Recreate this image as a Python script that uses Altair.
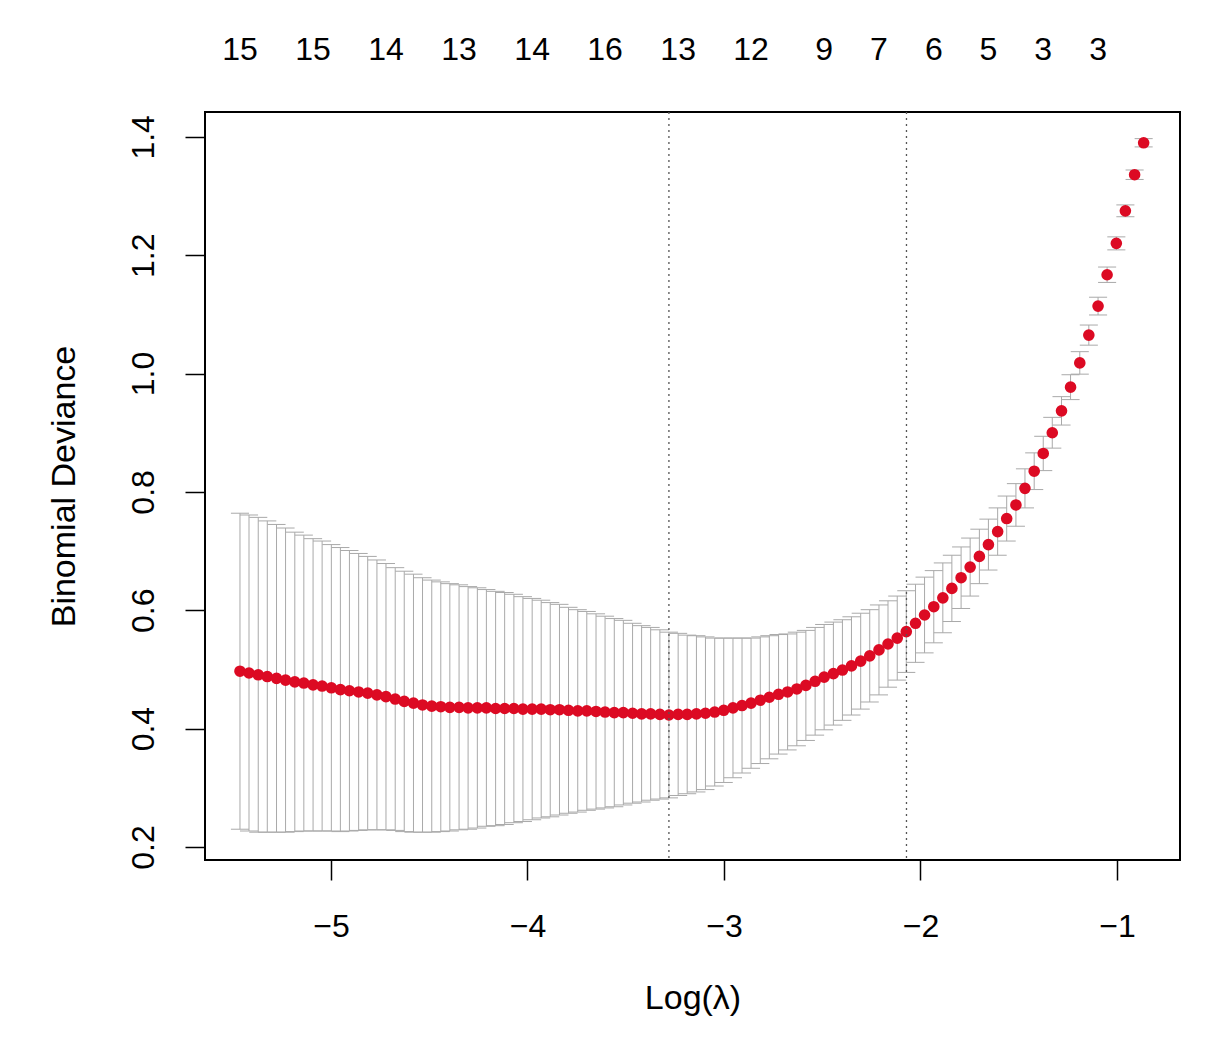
import altair as alt
import pandas as pd

# log(lambda) sequence (left to right)
log_lambda = [
    -5.463, -5.417, -5.370, -5.324, -5.277, -5.231, -5.184, -5.138, -5.091, -5.045,
    -4.998, -4.952, -4.906, -4.859, -4.813, -4.766, -4.720, -4.673, -4.627, -4.580,
    -4.534, -4.487, -4.441, -4.395, -4.348, -4.302, -4.255, -4.209, -4.162, -4.116,
    -4.069, -4.023, -3.976, -3.930, -3.884, -3.837, -3.791, -3.744, -3.698, -3.651,
    -3.605, -3.558, -3.512, -3.465, -3.419, -3.373, -3.326, -3.280, -3.233, -3.187,
    -3.140, -3.094, -3.047, -3.001, -2.954, -2.908, -2.862, -2.815, -2.769, -2.722,
    -2.676, -2.629, -2.583, -2.536, -2.490, -2.443, -2.397, -2.351, -2.304, -2.258,
    -2.211, -2.165, -2.118, -2.072, -2.025, -1.979, -1.932, -1.886, -1.840, -1.793,
    -1.747, -1.700, -1.654, -1.607, -1.561, -1.514, -1.468, -1.421, -1.375, -1.329,
    -1.282, -1.236, -1.189, -1.143, -1.096, -1.050, -1.003, -0.957, -0.910, -0.864,
]

# mean cross-validated binomial deviance
cv_mean = [
    0.497, 0.494, 0.491, 0.488, 0.485, 0.482, 0.479, 0.477, 0.474, 0.472,
    0.469, 0.466, 0.464, 0.462, 0.460, 0.457, 0.454, 0.450, 0.446, 0.443,
    0.440, 0.438, 0.437, 0.436, 0.436, 0.435, 0.435, 0.435, 0.434, 0.434,
    0.434, 0.433, 0.433, 0.433, 0.432, 0.432, 0.431, 0.430, 0.430, 0.429,
    0.428, 0.427, 0.427, 0.426, 0.425, 0.425, 0.424, 0.423, 0.424, 0.424,
    0.425, 0.426, 0.428, 0.431, 0.435, 0.439, 0.443, 0.448, 0.453, 0.458,
    0.462, 0.467, 0.473, 0.480, 0.487, 0.493, 0.499, 0.506, 0.514, 0.523,
    0.533, 0.543, 0.553, 0.564, 0.578, 0.592, 0.606, 0.621, 0.637, 0.655,
    0.673, 0.691, 0.711, 0.733, 0.755, 0.778, 0.806, 0.835, 0.865, 0.900,
    0.937, 0.977, 1.018, 1.065, 1.114, 1.167, 1.220, 1.275, 1.336, 1.390,
]

cv_upper = [
    0.764, 0.761, 0.757, 0.751, 0.745, 0.739, 0.732, 0.727, 0.721, 0.717,
    0.711, 0.706, 0.701, 0.696, 0.691, 0.685, 0.679, 0.672, 0.666, 0.661,
    0.655, 0.651, 0.648, 0.645, 0.643, 0.640, 0.638, 0.635, 0.632, 0.630,
    0.627, 0.623, 0.620, 0.617, 0.613, 0.610, 0.605, 0.601, 0.598, 0.594,
    0.590, 0.586, 0.583, 0.578, 0.574, 0.571, 0.567, 0.563, 0.561, 0.558,
    0.557, 0.555, 0.553, 0.553, 0.553, 0.553, 0.553, 0.555, 0.557, 0.559,
    0.560, 0.563, 0.566, 0.571, 0.576, 0.580, 0.584, 0.589, 0.595, 0.601,
    0.609, 0.616, 0.624, 0.633, 0.644, 0.656, 0.667, 0.680, 0.693, 0.707,
    0.722, 0.737, 0.754, 0.773, 0.793, 0.814, 0.839, 0.866, 0.894, 0.926,
    0.961, 0.998, 1.037, 1.082, 1.129, 1.180, 1.231, 1.285, 1.344, 1.397,
]

cv_lower = [
    0.230, 0.227, 0.225, 0.225, 0.225, 0.225, 0.226, 0.227, 0.227, 0.227,
    0.227, 0.226, 0.227, 0.228, 0.229, 0.229, 0.229, 0.228, 0.226, 0.225,
    0.225, 0.225, 0.226, 0.227, 0.229, 0.230, 0.232, 0.235, 0.236, 0.238,
    0.241, 0.243, 0.246, 0.249, 0.251, 0.254, 0.257, 0.259, 0.262, 0.264,
    0.266, 0.268, 0.271, 0.274, 0.276, 0.279, 0.281, 0.283, 0.287, 0.290,
    0.293, 0.297, 0.303, 0.309, 0.317, 0.325, 0.333, 0.341, 0.349, 0.357,
    0.364, 0.371, 0.380, 0.389, 0.398, 0.406, 0.414, 0.423, 0.433, 0.445,
    0.457, 0.470, 0.482, 0.495, 0.512, 0.528, 0.545, 0.562, 0.581, 0.603,
    0.624, 0.645, 0.668, 0.693, 0.717, 0.742, 0.773, 0.804, 0.836, 0.874,
    0.913, 0.956, 0.999, 1.048, 1.099, 1.154, 1.209, 1.265, 1.328, 1.383,
]

# number of non-zero coefficients shown on top
top_label_x = [-5.463, -5.091, -4.720, -4.348, -3.976, -3.605, -3.233,
               -2.862, -2.490, -2.211, -1.932, -1.654, -1.375, -1.096]
top_labels = ["15", "15", "14", "13", "14", "16", "13", "12", "9", "7", "6", "5", "3", "3"]

# lambda.min and lambda.1se
vline_x = [-3.280, -2.071]

x_ticks = [-5, -4, -3, -2, -1]
y_ticks = [0.2, 0.4, 0.6, 0.8, 1.0, 1.2, 1.4]

FONT = "Liberation Sans"
CAP = 0.046

df = pd.DataFrame({"x": log_lambda, "mean": cv_mean, "upper": cv_upper, "lower": cv_lower})
top_df = pd.DataFrame({"x": top_label_x, "label": top_labels})
vl_df = pd.DataFrame({"x": vline_x})

xscale = alt.Scale(domain=[-5.641, -0.679], nice=False, zero=False)
yscale = alt.Scale(domain=[0.178, 1.442], nice=False, zero=False)

X_TITLE = "Log(λ)"
Y_TITLE = "Binomial Deviance"

xaxis = alt.Axis(
    values=x_ticks, format="d", grid=False, domain=False,
    tickSize=20, tickWidth=1.5, tickColor="black",
    labelFont=FONT, labelFontSize=32, labelColor="black",
    labelBaseline="middle", labelPadding=46, labelFlush=False,
    title=X_TITLE, titleFont=FONT, titleFontSize=34, titleFontWeight="normal",
    titleColor="black", titleY=138, titleBaseline="middle",
)
yaxis = alt.Axis(
    values=y_ticks, format=".1f", grid=False, domain=False,
    tickSize=20, tickWidth=1.5, tickColor="black",
    labelFont=FONT, labelFontSize=32, labelColor="black",
    labelAngle=270, labelAlign="center", labelBaseline="middle",
    labelPadding=42, labelFlush=False,
    title=Y_TITLE, titleFont=FONT, titleFontSize=34,
    titleFontWeight="normal", titleColor="black",
    titleX=-141, titleY=374, titleAngle=270, titleBaseline="middle", titleAlign="center",
)

base = alt.Chart(df)

bars = base.mark_rule(color="#A9A9A9", strokeWidth=1).encode(
    x=alt.X("x:Q", scale=xscale, axis=xaxis, title=X_TITLE),
    y=alt.Y("lower:Q", scale=yscale, axis=yaxis, title=Y_TITLE),
    y2="upper:Q",
)

cap_up = base.transform_calculate(
    xl=f"datum.x - {CAP}", xr=f"datum.x + {CAP}"
).mark_rule(color="#A9A9A9", strokeWidth=1).encode(
    x=alt.X("xl:Q", scale=xscale, axis=xaxis, title=X_TITLE),
    x2="xr:Q",
    y=alt.Y("upper:Q", scale=yscale, axis=yaxis, title=Y_TITLE),
)

cap_lo = base.transform_calculate(
    xl=f"datum.x - {CAP}", xr=f"datum.x + {CAP}"
).mark_rule(color="#A9A9A9", strokeWidth=1).encode(
    x=alt.X("xl:Q", scale=xscale, axis=xaxis, title=X_TITLE),
    x2="xr:Q",
    y=alt.Y("lower:Q", scale=yscale, axis=yaxis, title=Y_TITLE),
)

points = base.mark_circle(size=135, color="#DC0A23", opacity=1).encode(
    x=alt.X("x:Q", scale=xscale, axis=xaxis, title=X_TITLE),
    y=alt.Y("mean:Q", scale=yscale, axis=yaxis, title=Y_TITLE),
)

vlines = alt.Chart(vl_df).mark_rule(
    color="#555555", strokeWidth=1.3, strokeDash=[2, 4]
).encode(x=alt.X("x:Q", scale=xscale, axis=xaxis, title=X_TITLE))

top_text = alt.Chart(top_df).mark_text(
    font=FONT, fontSize=32, color="black", align="center", baseline="middle"
).encode(
    x=alt.X("x:Q", scale=xscale, axis=xaxis, title=X_TITLE),
    y=alt.value(-62),
    text="label:N",
)

chart = alt.layer(bars, cap_up, cap_lo, points, vlines, top_text).properties(
    width=975,
    height=748,
    autosize=alt.AutoSizeParams(type="none"),
    padding={"left": 197, "top": 104, "right": 30, "bottom": 160},
    background="white",
).configure_view(
    stroke="black", strokeWidth=2
)

chart.save("out.html", embed_options={"renderer": "svg", "actions": False})
